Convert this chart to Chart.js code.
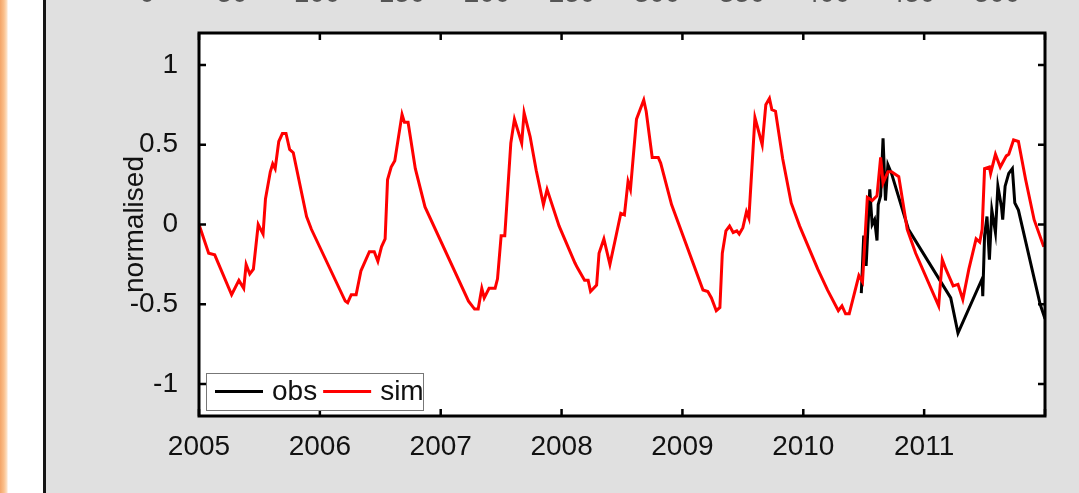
<!DOCTYPE html>
<html>
<head>
<meta charset="utf-8">
<script src="https://cdn.jsdelivr.net/npm/chart.js@4/dist/chart.umd.min.js"></script>
<style>
html, body { margin: 0; padding: 0; }
body {
  width: 1079px; height: 493px; overflow: hidden;
  background: linear-gradient(to right, #f3a468 0px, #fbc08c 4px, #fde2c8 7px, #ffffff 8px, #ffffff 43px, #151515 43px, #151515 46px, #e0e0e0 46px);
}
#wrap { position: absolute; left: 0; top: 0; width: 1079px; height: 493px; }
</style>
</head>
<body>
<div id="wrap"><canvas id="myChart"></canvas></div>
<script>
// simulated series (decimal year / normalised value)
const simYears = [
  2005.00, 2005.08, 2005.13, 2005.27, 2005.33, 2005.37, 2005.39, 2005.42, 2005.45, 2005.49,
  2005.53, 2005.55, 2005.59, 2005.61, 2005.63, 2005.66, 2005.69, 2005.72, 2005.75, 2005.78,
  2005.89, 2005.93, 2006.21, 2006.23, 2006.26, 2006.30, 2006.34, 2006.41, 2006.45, 2006.48,
  2006.51, 2006.54, 2006.56, 2006.59, 2006.62, 2006.68, 2006.70, 2006.73, 2006.79, 2006.87,
  2007.23, 2007.28, 2007.31, 2007.34, 2007.36, 2007.40, 2007.45, 2007.47, 2007.50, 2007.53,
  2007.58, 2007.61, 2007.67, 2007.69, 2007.74, 2007.79, 2007.85, 2007.88, 2007.98, 2008.11,
  2008.13, 2008.19, 2008.22, 2008.24, 2008.29, 2008.31, 2008.35, 2008.40, 2008.44, 2008.49,
  2008.52, 2008.55, 2008.57, 2008.62, 2008.68, 2008.70, 2008.75, 2008.80, 2008.82, 2008.91,
  2009.17, 2009.21, 2009.24, 2009.28, 2009.31, 2009.33, 2009.36, 2009.39, 2009.42, 2009.45,
  2009.47, 2009.50, 2009.53, 2009.55, 2009.60, 2009.66, 2009.69, 2009.72, 2009.74, 2009.77,
  2009.83, 2009.90, 2009.97, 2010.12, 2010.20, 2010.29, 2010.32, 2010.35, 2010.38, 2010.46,
  2010.49, 2010.53, 2010.57, 2010.61, 2010.64, 2010.66, 2010.70, 2010.73, 2010.79, 2010.86,
  2010.93, 2011.12, 2011.15, 2011.18, 2011.24, 2011.28, 2011.32, 2011.37, 2011.43, 2011.46,
  2011.48, 2011.50, 2011.54, 2011.55, 2011.59, 2011.63, 2011.68, 2011.70, 2011.74, 2011.78,
  2011.84, 2011.91, 2011.99
];
const simValues = [
  0.00, -0.18, -0.19, -0.44, -0.35, -0.40, -0.25, -0.31, -0.28, 0.00,
  -0.06, 0.16, 0.33, 0.38, 0.35, 0.52, 0.57, 0.57, 0.47, 0.45,
  0.05, -0.03, -0.48, -0.49, -0.44, -0.44, -0.29, -0.17, -0.17, -0.23,
  -0.14, -0.09, 0.28, 0.36, 0.40, 0.69, 0.64, 0.64, 0.35, 0.11,
  -0.48, -0.53, -0.53, -0.40, -0.46, -0.40, -0.40, -0.34, -0.07, -0.07,
  0.51, 0.66, 0.51, 0.70, 0.55, 0.34, 0.125, 0.22, -0.01, -0.24,
  -0.27, -0.35, -0.35, -0.42, -0.38, -0.18, -0.09, -0.25, -0.11, 0.07,
  0.06, 0.27, 0.22, 0.66, 0.78, 0.71, 0.42, 0.42, 0.385, 0.125,
  -0.41, -0.42, -0.46, -0.54, -0.52, -0.18, -0.04, -0.01, -0.05, -0.04,
  -0.06, -0.02, 0.08, 0.04, 0.67, 0.50, 0.75, 0.79, 0.72, 0.71,
  0.41, 0.135, -0.01, -0.28, -0.41, -0.54, -0.51, -0.56, -0.56, -0.32,
  -0.36, 0.17, 0.15, 0.18, 0.42, 0.26, 0.33, 0.33, 0.30, -0.03,
  -0.18, -0.51, -0.22, -0.28, -0.385, -0.375, -0.47, -0.28, -0.09, -0.11,
  -0.03, 0.35, 0.36, 0.32, 0.44, 0.36, 0.43, 0.44, 0.53, 0.52,
  0.28, 0.03, -0.14
];

// observed series
const obsYears = [
  2010.48, 2010.50, 2010.52, 2010.55, 2010.57, 2010.59, 2010.61, 2010.62, 2010.64, 2010.66,
  2010.68, 2010.70, 2010.73, 2010.87, 2011.22, 2011.28, 2011.48, 2011.485, 2011.50, 2011.52,
  2011.54, 2011.56, 2011.59, 2011.61, 2011.64, 2011.65, 2011.67, 2011.70, 2011.73, 2011.75,
  2011.78, 2011.96, 2012.00
];
const obsValues = [
  -0.43, -0.07, -0.26, 0.22, 0.00, 0.03, -0.10, 0.125, 0.18, 0.54,
  0.15, 0.375, 0.32, -0.03, -0.46, -0.68, -0.34, -0.45, -0.07, 0.05,
  -0.22, 0.09, -0.05, 0.24, 0.11, 0.03, 0.24, 0.32, 0.35, 0.135,
  0.09, -0.50, -0.59
];

const yTicks = [-1, -0.5, 0, 0.5, 1];
const topLabels = ['0', '50', '100', '150', '200', '250', '300', '350', '400', '450', '500'];

const FONT = '"Liberation Sans", Arial, sans-serif';
const FONT_SIZE = 28;

const toPoints = (xs, ys) => xs.map((x, i) => ({ x: x, y: ys[i] }));

// white plot box, frame, inward ticks and the legend
const frame = {
  id: 'frame',
  beforeDatasetsDraw(chart) {
    const { ctx, chartArea: a } = chart;
    ctx.save();
    ctx.fillStyle = '#ffffff';
    ctx.fillRect(a.left, a.top, a.right - a.left, a.bottom - a.top);
    ctx.restore();
  },
  afterDatasetsDraw(chart) {
    const { ctx, chartArea: a, scales } = chart;
    ctx.save();
    ctx.strokeStyle = '#000';
    ctx.lineWidth = 2.5;
    ctx.beginPath();
    scales.x.ticks.forEach(t => {
      const px = scales.x.getPixelForValue(t.value);
      ctx.moveTo(px, a.bottom); ctx.lineTo(px, a.bottom - 7);
      ctx.moveTo(px, a.top); ctx.lineTo(px, a.top + 7);
    });
    scales.y.ticks.forEach(t => {
      const py = scales.y.getPixelForValue(t.value);
      ctx.moveTo(a.left, py); ctx.lineTo(a.left + 7, py);
      ctx.moveTo(a.right, py); ctx.lineTo(a.right - 7, py);
    });
    ctx.stroke();
    ctx.lineWidth = 3;
    ctx.strokeRect(a.left, a.top, a.right - a.left, a.bottom - a.top);

    // legend box, lower left inside the axes
    const lx = a.left + 7, ly = a.bottom - 43, lw = 217, lh = 37;
    ctx.fillStyle = '#fff';
    ctx.fillRect(lx, ly, lw, lh);
    ctx.lineWidth = 1;
    ctx.strokeStyle = '#777';
    ctx.strokeRect(lx + 0.5, ly + 0.5, lw, lh);
    ctx.font = FONT_SIZE + 'px ' + FONT;
    ctx.textBaseline = 'middle';
    ctx.textAlign = 'left';
    const cy = ly + lh / 2;
    let x = lx + 9;
    chart.data.datasets.forEach(ds => {
      ctx.strokeStyle = ds.borderColor;
      ctx.lineWidth = 3;
      ctx.beginPath();
      ctx.moveTo(x, cy); ctx.lineTo(x + 48, cy);
      ctx.stroke();
      ctx.fillStyle = '#111';
      ctx.fillText(ds.label, x + 57, cy + 1);
      x += 57 + ctx.measureText(ds.label).width + 6;
    });
    ctx.restore();
  },
  afterDraw(chart) {
    // bottom edge of the axis labels of the panel above
    const { ctx } = chart;
    ctx.save();
    ctx.font = FONT_SIZE + 'px ' + FONT;
    ctx.fillStyle = '#555';
    ctx.textAlign = 'center';
    ctx.textBaseline = 'alphabetic';
    topLabels.forEach((t, i) => ctx.fillText(t, 147 + i * 85, 2));
    ctx.restore();
  }
};

const padLeft = 118;

new Chart(document.getElementById('myChart'), {
  type: 'line',
  data: {
    datasets: [
      {
        label: 'obs',
        data: toPoints(obsYears, obsValues),
        borderColor: '#000000',
        borderWidth: 3,
        pointRadius: 0,
        tension: 0,
        order: 1
      },
      {
        label: 'sim',
        data: toPoints(simYears, simValues),
        borderColor: '#ff0000',
        borderWidth: 3,
        pointRadius: 0,
        tension: 0,
        order: 0
      }
    ]
  },
  options: {
    responsive: true,
    maintainAspectRatio: false,
    animation: false,
    layout: { padding: { left: padLeft, top: 33, right: 34, bottom: 0 } },
    plugins: { legend: { display: false }, tooltip: { enabled: false } },
    scales: {
      x: {
        type: 'linear',
        min: 2005,
        max: 2012,
        grid: { display: false },
        border: { display: false },
        ticks: {
          stepSize: 1,
          autoSkip: false,
          maxRotation: 0,
          padding: 6,
          color: '#111',
          font: { family: FONT, size: FONT_SIZE },
          callback: v => (v < 2012 ? String(v) : '')
        },
        afterFit: s => { s.height = 77; }
      },
      y: {
        type: 'linear',
        min: -1.2,
        max: 1.2,
        grid: { display: false },
        border: { display: false },
        afterBuildTicks: s => { s.ticks = yTicks.map(v => ({ value: v })); },
        ticks: {
          padding: 13,
          color: '#111',
          font: { family: FONT, size: FONT_SIZE },
          callback: v => String(v)
        },
        title: {
          display: true,
          text: 'normalised',
          color: '#111',
          padding: 0,
          font: { family: FONT, size: FONT_SIZE }
        },
        afterFit: s => { s.width = 199 - padLeft; }
      }
    }
  },
  plugins: [frame]
});
</script>
</body>
</html>
